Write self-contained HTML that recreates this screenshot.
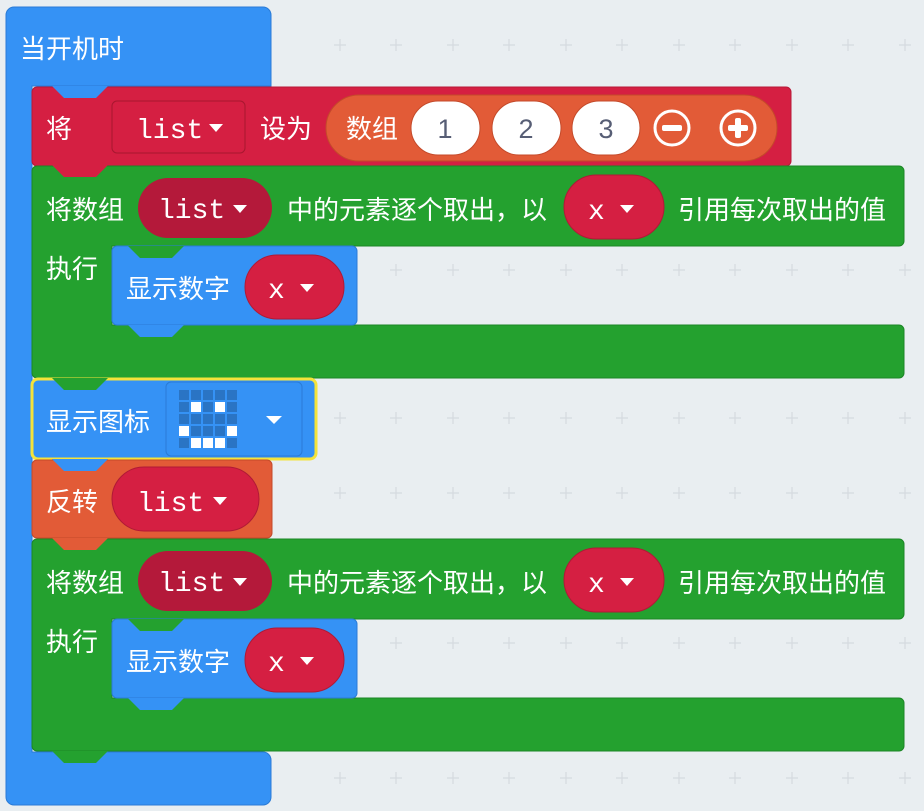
<!DOCTYPE html>
<html><head><meta charset="utf-8"><style>
html,body{margin:0;padding:0;background:#e9eef1;}
svg{display:block}
text{font-family:"Liberation Sans","Noto Sans CJK SC",sans-serif;fill:#fff;font-size:26px;}
.m{font-family:"Liberation Mono","Noto Sans CJK SC",monospace;font-size:28px;}
.n{fill:#575e75;font-size:27px;}
</style></head><body>
<svg width="924" height="811" viewBox="0 0 924 811" xmlns="http://www.w3.org/2000/svg">
<defs>
<g id="plus"><path d="M-6 0H6M0 -6V6" stroke="#d5dadf" stroke-width="1.2"/></g>
</defs>
<g>
<use href="#plus" x="340" y="45"/><use href="#plus" x="396" y="45"/><use href="#plus" x="453" y="45"/><use href="#plus" x="509" y="45"/><use href="#plus" x="566" y="45"/><use href="#plus" x="622" y="45"/><use href="#plus" x="679" y="45"/><use href="#plus" x="735" y="45"/><use href="#plus" x="792" y="45"/><use href="#plus" x="848" y="45"/><use href="#plus" x="905" y="45"/>
<use href="#plus" x="396" y="270"/><use href="#plus" x="453" y="270"/><use href="#plus" x="509" y="270"/><use href="#plus" x="566" y="270"/><use href="#plus" x="622" y="270"/><use href="#plus" x="679" y="270"/><use href="#plus" x="735" y="270"/><use href="#plus" x="792" y="270"/><use href="#plus" x="848" y="270"/><use href="#plus" x="905" y="270"/>
<use href="#plus" x="340" y="418"/><use href="#plus" x="396" y="418"/><use href="#plus" x="453" y="418"/><use href="#plus" x="509" y="418"/><use href="#plus" x="566" y="418"/><use href="#plus" x="622" y="418"/><use href="#plus" x="679" y="418"/><use href="#plus" x="735" y="418"/><use href="#plus" x="792" y="418"/><use href="#plus" x="848" y="418"/><use href="#plus" x="905" y="418"/>
<use href="#plus" x="340" y="493"/><use href="#plus" x="396" y="493"/><use href="#plus" x="453" y="493"/><use href="#plus" x="509" y="493"/><use href="#plus" x="566" y="493"/><use href="#plus" x="622" y="493"/><use href="#plus" x="679" y="493"/><use href="#plus" x="735" y="493"/><use href="#plus" x="792" y="493"/><use href="#plus" x="848" y="493"/><use href="#plus" x="905" y="493"/>
<use href="#plus" x="396" y="643"/><use href="#plus" x="453" y="643"/><use href="#plus" x="509" y="643"/><use href="#plus" x="566" y="643"/><use href="#plus" x="622" y="643"/><use href="#plus" x="679" y="643"/><use href="#plus" x="735" y="643"/><use href="#plus" x="792" y="643"/><use href="#plus" x="848" y="643"/><use href="#plus" x="905" y="643"/>
<use href="#plus" x="340" y="778"/><use href="#plus" x="396" y="778"/><use href="#plus" x="453" y="778"/><use href="#plus" x="509" y="778"/><use href="#plus" x="566" y="778"/><use href="#plus" x="622" y="778"/><use href="#plus" x="679" y="778"/><use href="#plus" x="735" y="778"/><use href="#plus" x="792" y="778"/><use href="#plus" x="848" y="778"/><use href="#plus" x="905" y="778"/>
</g>

<path d="M14 7H263a8 8 0 0 1 8 8V86H32V752H263a8 8 0 0 1 8 8V797a8 8 0 0 1-8 8H14a8 8 0 0 1-8-8V15a8 8 0 0 1 8-8Z" fill="#3592f5" stroke="#2a7bd6" stroke-width="1"/>
<text x="20" y="58">当开机时</text>

<rect x="32" y="87" width="759" height="79" rx="5" fill="#d51f42" stroke="#b81a38"/>
<path d="M52 86L64 98H96L108 86Z" fill="#3592f5"/>
<text x="46" y="138">将</text>
<rect x="112" y="101" width="133" height="52" rx="5" fill="#d51f42" stroke="#a8172f"/>
<text class="m" x="136" y="138">list</text>
<path d="M209 124h14l-7 8z" fill="#fff"/>
<text x="260" y="138">设为</text>
<rect x="326" y="95" width="451" height="66" rx="33" fill="#e25b37" stroke="#c44a2a"/>
<text x="346" y="138">数组</text>
<rect x="411" y="101" width="69" height="54" rx="27" fill="#fff" stroke="#c44a2a"/>
<rect x="492" y="101" width="69" height="54" rx="27" fill="#fff" stroke="#c44a2a"/>
<rect x="572" y="101" width="68" height="54" rx="27" fill="#fff" stroke="#c44a2a"/>
<text class="n" x="445" y="138" text-anchor="middle">1</text>
<text class="n" x="526" y="138" text-anchor="middle">2</text>
<text class="n" x="606" y="138" text-anchor="middle">3</text>
<circle cx="672" cy="128" r="17" fill="none" stroke="#fff" stroke-width="3"/>
<rect x="662" y="125" width="20" height="6" rx="2" fill="#fff"/>
<circle cx="738" cy="128" r="17" fill="none" stroke="#fff" stroke-width="3"/>
<rect x="728" y="125" width="20" height="6" rx="2" fill="#fff"/><rect x="735" y="118" width="6" height="20" rx="2" fill="#fff"/>

<path d="M37 166H899a5 5 0 0 1 5 5V241a5 5 0 0 1-5 5H112V325H899a5 5 0 0 1 5 5V373a5 5 0 0 1-5 5H37a5 5 0 0 1-5-5V171a5 5 0 0 1 5-5Z" fill="#24a12f" stroke="#1c8626"/>
<path d="M52 165L64 177H96L108 165Z" fill="#d51f42"/>
<text x="46" y="219">将数组</text>
<rect x="138" y="178" width="134" height="60" rx="30" fill="#b4193a"/>
<text class="m" x="158" y="218">list</text>
<path d="M233 205h14l-7 8z" fill="#fff"/>
<text x="287" y="219">中的元素逐个取出，以</text>
<rect x="564" y="175" width="100" height="64" rx="32" fill="#d51f42" stroke="#b01a36"/>
<text class="m" x="588" y="219">x</text>
<path d="M620 205h14l-7 8z" fill="#fff"/>
<text x="678" y="219">引用每次取出的值</text>
<text x="46" y="278">执行</text>
<rect x="112" y="246" width="245" height="79" rx="5" fill="#3592f5" stroke="#2a7bd6"/>
<path d="M128 246L140 258H172L184 246Z" fill="#24a12f"/>
<path d="M128 325L140 337H172L184 325Z" fill="#3592f5"/>
<text x="126" y="298">显示数字</text>
<rect x="245" y="255" width="99" height="64" rx="32" fill="#d51f42" stroke="#b01a36"/>
<text class="m" x="268" y="298">x</text>
<path d="M300 284h14l-7 8z" fill="#fff"/>

<rect x="32" y="379" width="284" height="80" rx="6" fill="#3592f5" stroke="#f4e33b" stroke-width="3"/>
<path d="M52 378L64 390H96L108 378Z" fill="#24a12f"/>
<text x="46" y="431">显示图标</text>
<rect x="166" y="382" width="136" height="74" rx="5" fill="#3592f5" stroke="#2a7bd6"/>
<g fill="#2a74c4">
<rect x="179" y="390" width="10" height="10"/><rect x="191" y="390" width="10" height="10"/><rect x="203" y="390" width="10" height="10"/><rect x="215" y="390" width="10" height="10"/><rect x="227" y="390" width="10" height="10"/>
<rect x="179" y="402" width="10" height="10"/><rect x="203" y="402" width="10" height="10"/><rect x="227" y="402" width="10" height="10"/>
<rect x="179" y="414" width="10" height="10"/><rect x="191" y="414" width="10" height="10"/><rect x="203" y="414" width="10" height="10"/><rect x="215" y="414" width="10" height="10"/><rect x="227" y="414" width="10" height="10"/>
<rect x="191" y="426" width="10" height="10"/><rect x="203" y="426" width="10" height="10"/><rect x="215" y="426" width="10" height="10"/>
<rect x="179" y="438" width="10" height="10"/><rect x="227" y="438" width="10" height="10"/>
</g>
<g fill="#fff">
<rect x="191" y="402" width="10" height="10"/><rect x="215" y="402" width="10" height="10"/>
<rect x="179" y="426" width="10" height="10"/><rect x="227" y="426" width="10" height="10"/>
<rect x="191" y="438" width="10" height="10"/><rect x="203" y="438" width="10" height="10"/><rect x="215" y="438" width="10" height="10"/>
</g>
<path d="M266 416h16l-8 8z" fill="#fff"/>

<rect x="32" y="460" width="240" height="78" rx="5" fill="#e25b37" stroke="#c44a2a"/>
<path d="M52 459L64 471H96L108 459Z" fill="#3592f5"/>
<text x="46" y="511">反转</text>
<rect x="112" y="467" width="147" height="64" rx="32" fill="#d51f42" stroke="#b01a36"/>
<text class="m" x="137" y="511">list</text>
<path d="M213 497h14l-7 8z" fill="#fff"/>

<path d="M37 539H899a5 5 0 0 1 5 5V614a5 5 0 0 1-5 5H112V698H899a5 5 0 0 1 5 5V746a5 5 0 0 1-5 5H37a5 5 0 0 1-5-5V544a5 5 0 0 1 5-5Z" fill="#24a12f" stroke="#1c8626"/>
<path d="M52 538L64 550H96L108 538Z" fill="#e25b37"/>
<path d="M52 751L64 763H96L108 751Z" fill="#24a12f"/>
<text x="46" y="592">将数组</text>
<rect x="138" y="551" width="134" height="60" rx="30" fill="#b4193a"/>
<text class="m" x="158" y="591">list</text>
<path d="M233 578h14l-7 8z" fill="#fff"/>
<text x="287" y="592">中的元素逐个取出，以</text>
<rect x="564" y="548" width="100" height="64" rx="32" fill="#d51f42" stroke="#b01a36"/>
<text class="m" x="588" y="592">x</text>
<path d="M620 578h14l-7 8z" fill="#fff"/>
<text x="678" y="592">引用每次取出的值</text>
<text x="46" y="651">执行</text>
<rect x="112" y="619" width="245" height="79" rx="5" fill="#3592f5" stroke="#2a7bd6"/>
<path d="M128 619L140 631H172L184 619Z" fill="#24a12f"/>
<path d="M128 698L140 710H172L184 698Z" fill="#3592f5"/>
<text x="126" y="671">显示数字</text>
<rect x="245" y="628" width="99" height="64" rx="32" fill="#d51f42" stroke="#b01a36"/>
<text class="m" x="268" y="671">x</text>
<path d="M300 657h14l-7 8z" fill="#fff"/>
</svg>
</body></html>
